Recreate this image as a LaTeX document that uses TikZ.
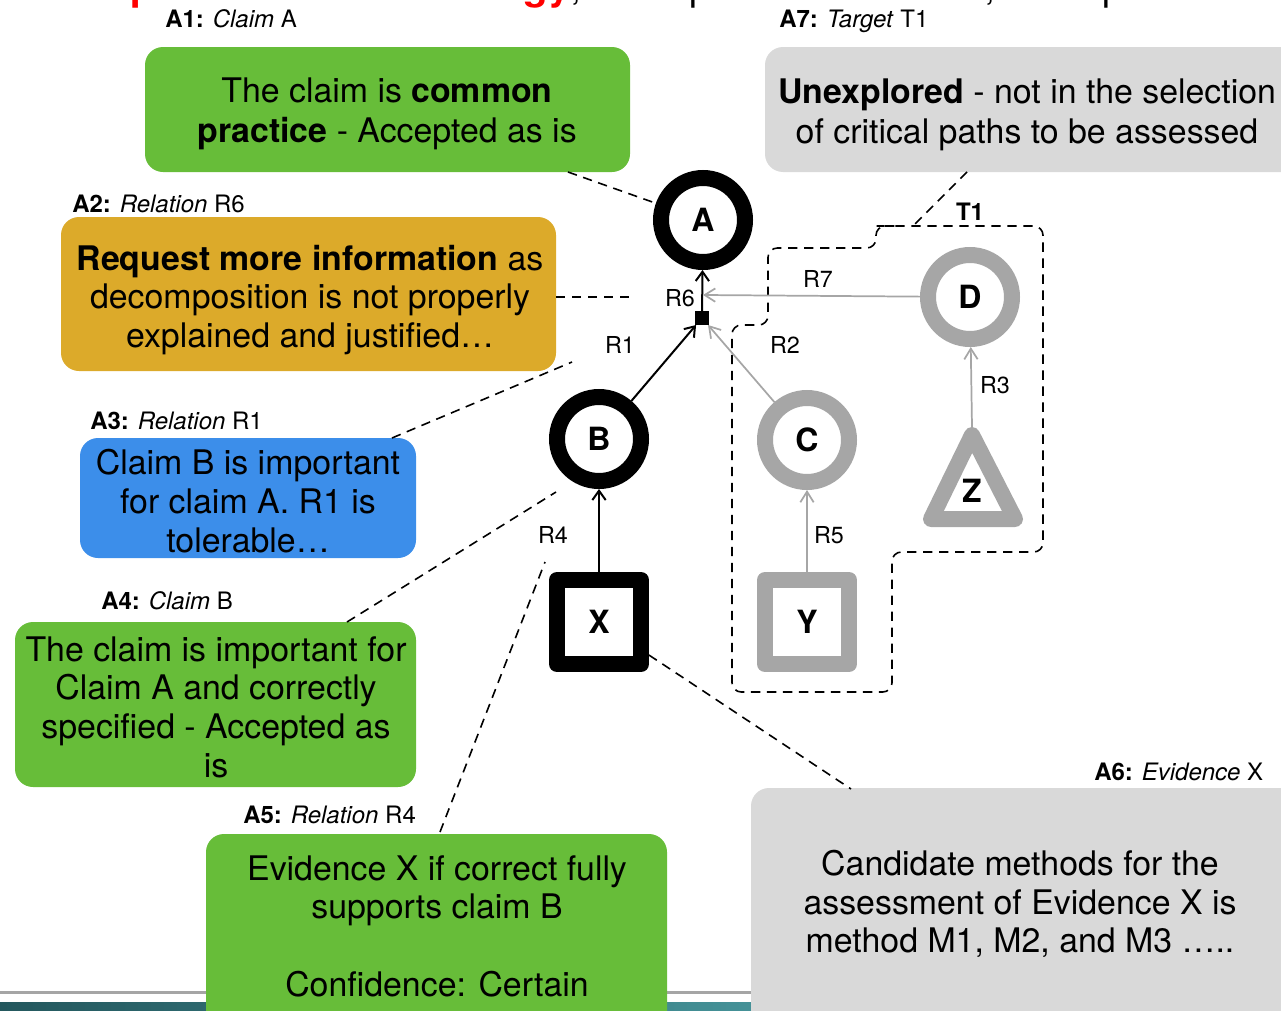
\documentclass[tikz,border=0pt]{standalone}
\usepackage{fontspec}
\setmainfont{TeX Gyre Heros}
\usetikzlibrary{arrows.meta}
\definecolor{boxgreen}{RGB}{103,189,57}
\definecolor{boxgold}{RGB}{220,170,42}
\definecolor{boxblue}{RGB}{60,142,234}
\definecolor{boxgrey}{RGB}{217,217,217}
\definecolor{nodegrey}{RGB}{166,166,166}
\definecolor{linegrey}{RGB}{165,165,165}
\definecolor{titlered}{RGB}{255,0,0}
\definecolor{tealdark}{RGB}{36,88,94}
\definecolor{teallight}{RGB}{92,186,192}
\begin{document}
\begin{tikzpicture}[x=0.75pt,y=-0.75pt,
  notebox/.style={rounded corners=13.5pt},
  notetext/.style={align=center, inner sep=0pt, font=\fontsize{25.4}{29}\selectfont},
  tag/.style={anchor=base west, inner sep=0pt, font=\fontsize{18}{18}\selectfont},
  elabel/.style={anchor=base, inner sep=0pt, font=\fontsize{17.5}{17.5}\selectfont},
  ringblack/.style={circle, draw=black, line width=12pt, fill=white, minimum size=63pt, inner sep=0pt, font=\fontsize{24}{24}\selectfont\bfseries},
  ringgrey/.style={ringblack, draw=nodegrey},
  sqblack/.style={rectangle, draw=black, line width=12pt, line join=round, fill=white, minimum size=63pt, inner sep=0pt, font=\fontsize{24}{24}\selectfont\bfseries},
  sqgrey/.style={sqblack, draw=nodegrey},
  junction/.style={rectangle, fill=black, minimum size=10.5pt, inner sep=0pt, outer sep=0pt},
  edgeblack/.style={draw=black, line width=1.5pt, -{Straight Barb[length=7pt,width=10pt]}},
  edgegrey/.style={draw=nodegrey, line width=1.3pt, -{Straight Barb[length=8pt,width=10pt]}},
  anno/.style={draw=black, line width=1.2pt, dash pattern=on 7pt off 5pt},
]
\useasboundingbox (0,0) rectangle (1281,1010);
\begin{scope}
\clip (0,0) rectangle (1281,1010);

% slide footer strip
\fill[linegrey] (0,990.5) rectangle (1281,993.5);
\shade[left color=tealdark, right color=teallight] (0,1002) rectangle (1281,1014);

% heading running above the frame
\node[anchor=base west, inner sep=0pt, text=titlered, font=\fontsize{30}{30}\selectfont\bfseries] (title) at (24,0)
  {Example of the methodology\textcolor{black}{\mdseries, an expert assessment, example}};

% annotation boxes
\fill[boxgreen, notebox] (145,47) rectangle (630,172);
\fill[boxgold, notebox] (61,217) rectangle (556,371);
\fill[boxblue, notebox] (80,438) rectangle (416,558);
\fill[boxgreen, notebox] (15,622) rectangle (416,787);
\fill[boxgreen, notebox] (206,834) rectangle (667,1050);
\fill[boxgrey, notebox] (751,788) rectangle (1330,1050);
\fill[boxgrey, notebox] (765,47) rectangle (1330,172);

\node[notetext, font=\fontsize{25.4}{30.5}\selectfont] (t1) at (387,114)
  {The claim is \textbf{common}\\ \textbf{practice} - Accepted as is};
\node[notetext] (t2) at (310,300)
  {\textbf{Request more information} as\\ decomposition is not properly\\ explained and justified…};
\node[notetext] (t3) at (248,501)
  {Claim B is important\\ for claim A. R1 is\\ tolerable…};
\node[notetext] (t4) at (216,707)
  {The claim is important for\\ Claim A and correctly\\ specified - Accepted as\\ is};
\node[notetext] (t5) at (437,926)
  {Evidence X if correct fully\\ supports claim B\\[29pt] Confidence: Certain};
\node[notetext] (t6) at (1020,904)
  {Candidate methods for the\\ assessment of Evidence X is\\ method M1, M2, and M3 …..};
\node[notetext, font=\fontsize{25.4}{30.5}\selectfont] (t7) at (1027,115)
  {\textbf{Unexplored} - not in the selection\\ of critical paths to be assessed};

% annotation tags
\node[tag] (g1) at (165,27) {\textbf{A1:} \textit{Claim} A};
\node[tag] (g2) at (72,212) {\textbf{A2:} \textit{Relation} R6};
\node[tag] (g3) at (90,429) {\textbf{A3:} \textit{Relation} R1};
\node[tag] (g4) at (101,609) {\textbf{A4:} \textit{Claim} B};
\node[tag] (g5) at (243,823) {\textbf{A5:} \textit{Relation} R4};
\node[tag] (g6) at (1094,780) {\textbf{A6:} \textit{Evidence} X};
\node[tag] (g7) at (779,27) {\textbf{A7:} \textit{Target} T1};

% target region T1
\draw[anno, rounded corners=7pt] (886,226) -- (1043,226) -- (1043,552) -- (892,552) -- (892,692)
  -- (732,692) -- (732,325) -- (768,325) -- (768,248) -- (876,248) -- (876,226) -- cycle;
\node[anchor=base, inner sep=0pt, font=\fontsize{18}{18}\selectfont\bfseries] (tT1) at (970,220) {T1};

% argument nodes
\node[ringblack] (nA) at (703,220) {A};
\node[ringblack] (nB) at (599,439) {B};
\node[ringgrey] (nC) at (807,440) {C};
\node[ringgrey] (nD) at (970,297) {D};
\node[sqblack] (nX) at (599,622) {X};
\node[sqgrey] (nY) at (807,622) {Y};
\draw[nodegrey, line width=12pt, line join=round, fill=white] (972,435) -- (1015,519) -- (931,519) -- cycle;
\node[inner sep=0pt, font=\fontsize{24}{24}\selectfont\bfseries] (nZ) at (972,491) {Z};
\coordinate (zApex) at (972,427);
\node[junction] (j6) at (702,318) {};
\coordinate (r6mid) at (703,295);

% relations
\draw[edgeblack] (j6) -- (nA);
\draw[edgeblack] (nB) -- (j6);
\draw[edgegrey] (nC) -- (j6);
\draw[edgegrey] (nD) -- (r6mid);
\draw[edgegrey] (zApex) -- (nD);
\draw[edgeblack] (nX) -- (nB);
\draw[edgegrey] (nY) -- (nC);

\node[elabel] (lR6) at (680,306) {R6};
\node[elabel] (lR7) at (818,287) {R7};
\node[elabel] (lR1) at (620,353) {R1};
\node[elabel] (lR2) at (785,353) {R2};
\node[elabel] (lR3) at (995,393) {R3};
\node[elabel] (lR4) at (553,543) {R4};
\node[elabel] (lR5) at (829,543) {R5};

% annotation leaders
\coordinate (p1) at (568,172);
\coordinate (p2a) at (556,297);
\coordinate (p2b) at (635,297);
\coordinate (p3a) at (392,438);
\coordinate (p3b) at (572,362);
\coordinate (p4a) at (347,622);
\coordinate (p4b) at (556,492);
\coordinate (p5a) at (440,832);
\coordinate (p5b) at (545,562);
\coordinate (p6) at (851,789);
\coordinate (p7a) at (967,172);
\coordinate (p7b) at (913,226);
\draw[anno] (p1) -- (nA);
\draw[anno] (p2a) -- (p2b);
\draw[anno] (p3a) -- (p3b);
\draw[anno] (p4a) -- (p4b);
\draw[anno] (p5a) -- (p5b);
\draw[anno] (nX) -- (p6);
\draw[anno] (p7a) -- (p7b);
\end{scope}
\end{tikzpicture}
\end{document}
